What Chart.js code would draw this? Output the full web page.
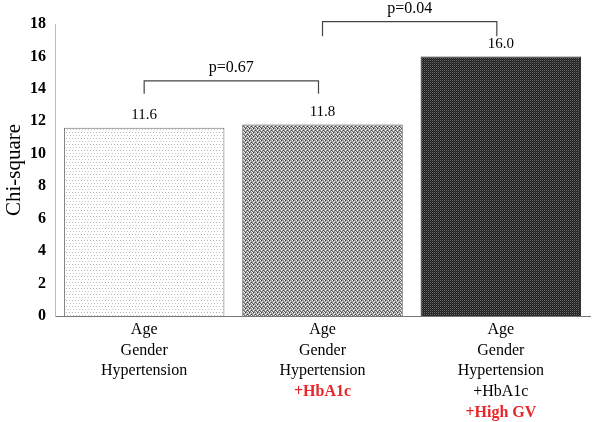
<!DOCTYPE html>
<html>
<head>
<meta charset="utf-8">
<script src="https://cdn.jsdelivr.net/npm/chart.js@4/dist/chart.umd.min.js"></script>
<style>
  html, body { margin: 0; padding: 0; background: #fff; }
  #wrap { width: 598px; height: 422px; }
</style>
</head>
<body>
<div id="wrap"><canvas id="chiChart" width="598" height="422"></canvas></div>
<script>
'use strict';

// values
const categories = ['Model 1', 'Model 2', 'Model 3'];
const chiSquare = [11.6, 11.8, 16.0];
const yTicks = [0, 2, 4, 6, 8, 10, 12, 14, 16, 18];

// label lines under each bar, red ones are the added covariate
const labelLines = [
  ['Age', 'Gender', 'Hypertension'],
  ['Age', 'Gender', 'Hypertension', '+HbA1c'],
  ['Age', 'Gender', 'Hypertension', '+HbA1c', '+High GV']
];
const labelRed = [
  [false, false, false],
  [false, false, false, true],
  [false, false, false, false, true]
];

// significance brackets: bar index from/to, bracket height and tip in y units
const bracketFrom = [0, 1];
const bracketTo = [1, 2];
const bracketTop = [14.5, 18.15];
const bracketTip = [13.7, 17.25];
const bracketText = ['p=0.67', 'p=0.04'];

function makePattern(size, base, dots) {
  let c = document.createElement('canvas');
  c.width = size;
  c.height = size;
  let g = c.getContext('2d');
  g.fillStyle = base;
  g.fillRect(0, 0, size, size);
  dots.forEach(function (d) {
    g.fillStyle = d[2];
    g.fillRect(d[0], d[1], 1, 1);
  });
  return g.createPattern(c, 'repeat');
}

const ctx = document.getElementById('chiChart').getContext('2d');

const fills = [
  makePattern(6, '#ffffff', [[0, 0, '#b4b4b4'], [3, 0, '#b4b4b4'], [1, 3, '#c4c4c4'], [4, 3, '#c4c4c4']]),
  makePattern(4, '#9c9c9c', [[0, 0, '#ffffff'], [2, 1, '#e8e8e8'], [1, 2, '#ffffff'], [3, 3, '#f0f0f0'],
    [1, 0, '#333333'], [3, 2, '#3a3a3a'], [0, 3, '#666666'], [2, 3, '#777777']]),
  makePattern(2, '#1e1e1e', [[0, 0, '#6a6a6a'], [1, 1, '#3a3a3a']])
];

const annotate = {
  id: 'annotate',
  afterDraw(chart) {
    const c = chart.ctx;
    const x = chart.scales.x;
    const y = chart.scales.y;
    const meta = chart.getDatasetMeta(0);
    c.save();

    // values on top of bars
    c.fillStyle = '#000';
    c.font = '15px "Liberation Serif", "Times New Roman", serif';
    c.textAlign = 'center';
    c.textBaseline = 'bottom';
    meta.data.forEach(function (bar, i) {
      c.fillText(chiSquare[i].toFixed(1), bar.x, bar.y - 5);
    });

    // brackets
    c.strokeStyle = '#444';
    c.lineWidth = 1.2;
    c.font = '16px "Liberation Serif", "Times New Roman", serif';
    for (let i = 0; i < bracketText.length; i++) {
      let x1 = meta.data[bracketFrom[i]].x;
      let x2 = meta.data[bracketTo[i]].x - 4;
      let yt = y.getPixelForValue(bracketTop[i]);
      let yb = y.getPixelForValue(bracketTip[i]);
      c.beginPath();
      c.moveTo(x1, yb);
      c.lineTo(x1, yt);
      c.lineTo(x2, yt);
      c.lineTo(x2, yb);
      c.stroke();
      c.fillText(bracketText[i], (x1 + x2) / 2, yt - 5);
    }

    // category labels
    c.textBaseline = 'middle';
    labelLines.forEach(function (lines, i) {
      let cx = x.getPixelForValue(i);
      lines.forEach(function (txt, j) {
        if (labelRed[i][j]) {
          c.fillStyle = '#e8262a';
          c.font = 'bold 16px "Liberation Serif", "Times New Roman", serif';
        } else {
          c.fillStyle = '#000';
          c.font = '16px "Liberation Serif", "Times New Roman", serif';
        }
        c.fillText(txt, cx, y.bottom + 14 + j * 20.6);
      });
    });
    c.restore();
  }
};

const chartGraphics = {
  type: 'bar',
  data: {
    labels: categories,
    datasets: [{
      label: 'Chi-square',
      data: chiSquare,
      backgroundColor: fills,
      borderColor: ['#6e6e6e', '#555555', '#1e1e1e'],
      borderWidth: 1,
      borderSkipped: 'bottom',
      barPercentage: 0.9,
      categoryPercentage: 1.0
    }]
  },
  plugins: [annotate],
  options: {
    responsive: false,
    animation: false,
    layout: {
      padding: { top: 24, right: 8, bottom: 106, left: 0 }
    },
    plugins: {
      legend: { display: false },
      tooltip: { enabled: false }
    },
    scales: {
      x: {
        grid: { display: false, drawTicks: false },
        border: { display: true, color: '#777', width: 1 },
        ticks: { display: false }
      },
      y: {
        min: 0,
        max: 18,
        afterBuildTicks(scale) {
          scale.ticks = yTicks.map(function (v) { return { value: v }; });
        },
        afterFit(scale) {
          scale.width = 55;
        },
        grid: { display: false, drawTicks: false },
        border: { display: true, color: '#bbb', width: 1 },
        ticks: {
          padding: 9,
          color: '#000',
          font: { family: '"Liberation Serif", "Times New Roman", serif', size: 16, weight: 'bold' }
        },
        title: {
          display: true,
          text: 'Chi-square',
          color: '#000',
          padding: { top: 2, bottom: 0 },
          font: { family: '"Liberation Serif", "Times New Roman", serif', size: 21 }
        }
      }
    }
  }
};

const myChart = new Chart(ctx, chartGraphics);
</script>
</body>
</html>
